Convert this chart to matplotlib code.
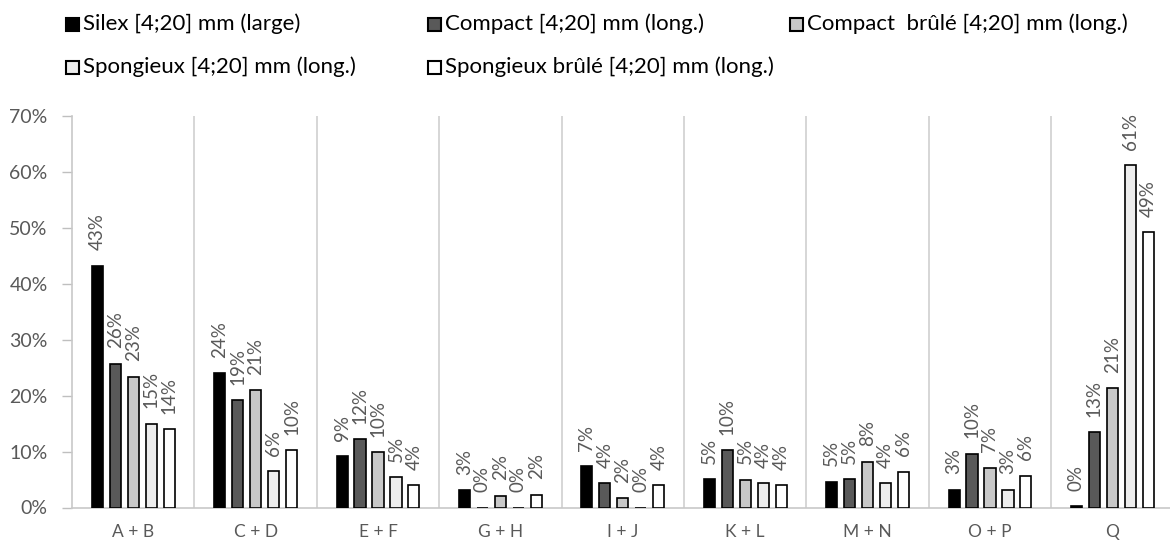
import numpy as np
import matplotlib.pyplot as plt
from matplotlib.patches import Rectangle
from matplotlib.ticker import PercentFormatter

plt.rcParams['font.family'] = ['Lato', 'DejaVu Sans']

# categories and series (values in %)
categories = ["A + B", "C + D", "E + F", "G + H", "I + J", "K + L", "M + N", "O + P", "Q"]
series_names = ["Silex [4;20] mm (large)",
                "Compact [4;20] mm (long.)",
                "Compact  brûlé [4;20] mm (long.)",
                "Spongieux [4;20] mm (long.)",
                "Spongieux brûlé [4;20] mm (long.)"]
silex = [43.2, 24.0, 9.2, 3.1, 7.4, 5.1, 4.6, 3.2, 0.3]
compact = [25.7, 19.2, 12.2, 0.0, 4.4, 10.3, 5.1, 9.6, 13.4]
compact_brule = [23.4, 21.0, 9.9, 2.1, 1.7, 5.0, 8.2, 7.1, 21.3]
spongieux = [15.0, 6.5, 5.4, 0.0, 0.0, 4.3, 4.3, 3.2, 61.2]
spongieux_brule = [14.0, 10.3, 4.0, 2.3, 4.0, 4.0, 6.4, 5.7, 49.2]
series = [silex, compact, compact_brule, spongieux, spongieux_brule]
colors = ["#000000", "#595959", "#c8c8c8", "#ededed", "#ffffff"]

grey = "#595959"
W, H = 1170, 541
fig = plt.figure(figsize=(W / 100, H / 100), dpi=100)
ax = fig.add_axes([72 / W, 1 - 507.5 / H, (1173.6 - 72) / W, (507.5 - 115.7) / H])

x = np.arange(len(categories))
step = 0.147
width = 0.09
for i, (vals, col) in enumerate(zip(series, colors)):
    pos = x + (i - 2) * step
    ax.bar(pos, vals, width=width, color=col, edgecolor="black", linewidth=1.2, zorder=3)
    for p, v in zip(pos, vals):
        ax.annotate(f"{v:.0f}%", (p, v), xytext=(0, 11), textcoords="offset points",
                    rotation=90, ha="center", va="bottom", color=grey, fontsize=13.5)

ax.set_xlim(-0.5, len(categories) - 0.5)
ax.set_ylim(0, 70)
ax.yaxis.set_major_formatter(PercentFormatter(decimals=0))
ax.set_yticks(np.arange(0, 71, 10))
ax.set_xticks(x)
ax.set_xticklabels(categories)
ax.tick_params(axis="y", colors="#bfbfbf", labelcolor=grey, labelsize=14, length=7, width=1, pad=10.5)
ax.tick_params(axis="x", length=0, labelcolor=grey, labelsize=12.5, pad=12)

# vertical separators between categories
for b in np.arange(0.5, len(categories) - 0.5, 1):
    ax.axvline(b, color="#d0d0d0", linewidth=1.2, zorder=1)

for s in ["top", "right"]:
    ax.spines[s].set_visible(False)
for s in ["left", "bottom"]:
    ax.spines[s].set_color("#c8c8c8")
    ax.spines[s].set_linewidth(1.2)

# legend, laid out like the Excel legend
for i, (name, col) in enumerate(zip(series_names, colors)):
    row, c = divmod(i, 3)
    x0 = 66 + c * 362
    yc = 23.5 + row * 43.5
    fig.patches.append(Rectangle((x0 / W, 1 - (yc + 7) / H), 13 / W, 13 / H,
                                 transform=fig.transFigure, facecolor=col,
                                 edgecolor="black", linewidth=1.5))
    fig.text((x0 + 17) / W, 1 - yc / H, name, ha="left", va="center", fontsize=16, color="black")

fig.savefig("out.png", dpi=100)
